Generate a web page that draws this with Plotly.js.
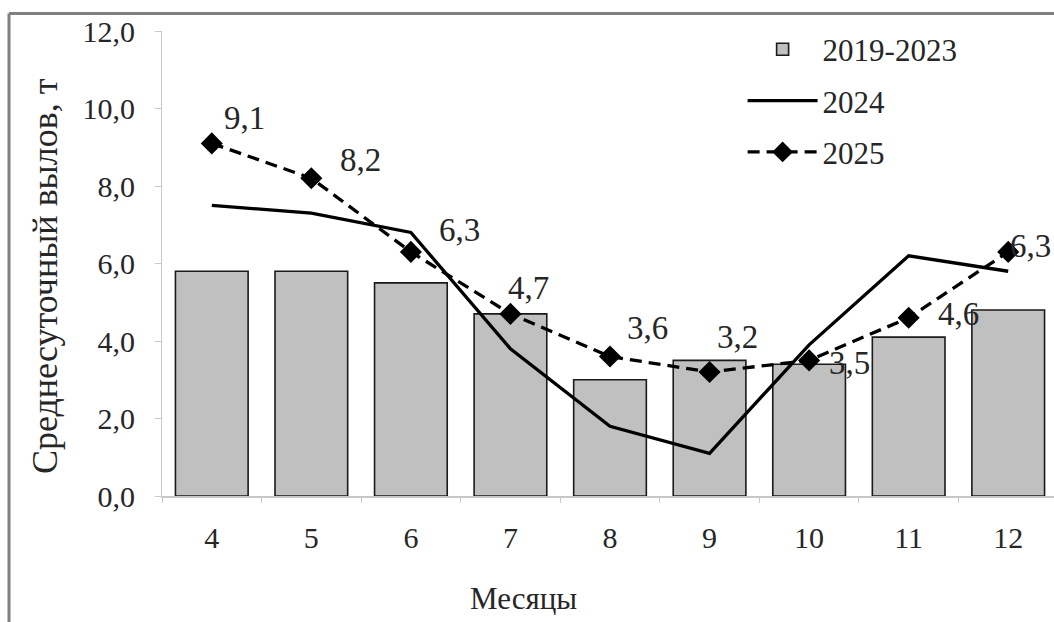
<!DOCTYPE html>
<html>
<head>
<meta charset="utf-8">
<script src="https://cdn.plot.ly/plotly-3.0.1.min.js"></script>
<style>
html,body{margin:0;padding:0;background:#fff;overflow:hidden;width:1054px;height:622px;}
#chart{width:1070px;height:622px;}
</style>
</head>
<body>
<div id="chart"></div>
<script>
var months = ['4','5','6','7','8','9','10','11','12'];
var avg2019_2023 = [5.8, 5.8, 5.5, 4.7, 3.0, 3.5, 3.4, 4.1, 4.8];
var y2024 = [7.5, 7.3, 6.8, 3.8, 1.8, 1.1, 3.9, 6.2, 5.8];
var y2025 = [9.1, 8.2, 6.3, 4.7, 3.6, 3.2, 3.5, 4.6, 6.3];
var yTickVals = [0, 2, 4, 6, 8, 10, 12];
var yTickText = ['0,0', '2,0', '4,0', '6,0', '8,0', '10,0', '12,0'];
var seriesNames = ['2019-2023', '2024', '2025'];
var xTitle = 'Месяцы';
var yTitle = 'Среднесуточный вылов, т';

// label offsets (px) for 2025 data labels
var labelShiftX = [33, 49, 49, 18, 37, 28, 40, 50, 22];
var labelShiftY = [25, 18, 22, 26, 29, 35, -3, 4, 6];

var FONT = 'Liberation Serif, Times New Roman, serif';
var TXT = '#262626';

var traces = [
  {type:'bar', x:months, y:avg2019_2023, name:seriesNames[0], width:0.73,
   marker:{color:'#c0c0c0', line:{color:'#1a1a1a', width:1.6}}, legendgroup:'a', hoverinfo:'y'},
  {type:'scatter', mode:'lines', x:months, y:y2024, name:seriesNames[1],
   line:{color:'#000', width:3.3}, legendgroup:'b'},
  {type:'scatter', mode:'lines+markers', x:months, y:y2025, name:seriesNames[2],
   line:{color:'#000', width:3.3, dash:'12px,7px'}, marker:{symbol:'diamond', size:17, color:'#000'}, legendgroup:'c'}
];

var annotations = y2025.map(function(v, i){
  return {x:i, y:v, xref:'x', yref:'y', text:v.toFixed(1).replace('.', ','),
    showarrow:false, xshift:labelShiftX[i], yshift:labelShiftY[i],
    font:{family:FONT, size:33, color:TXT}};
});
annotations.push({xref:'paper', yref:'paper', x:(523-162)/896, y:(496-598)/465, text:xTitle,
  showarrow:false, font:{family:FONT, size:31, color:TXT}, xanchor:'center', yanchor:'middle'});
annotations.push({xref:'paper', yref:'paper', x:(45-162)/896, y:(496-276)/465, text:yTitle, textangle:-90,
  showarrow:false, font:{family:FONT, size:36, color:TXT}, xanchor:'center', yanchor:'middle'});

var layout = {
  width:1070, height:622,
  margin:{l:162, r:12, t:31, b:126},
  paper_bgcolor:'#fff', plot_bgcolor:'#fff',
  font:{family:FONT, size:30, color:TXT},
  bargap:0.27,
  showlegend:true,
  legend:{x:0.648, y:1.018, xanchor:'left', yanchor:'top', bgcolor:'rgba(0,0,0,0)',
    font:{family:FONT, size:31, color:TXT}, itemwidth:70, traceorder:'grouped', tracegroupgap:8},
  xaxis:{type:'category', range:[-0.5, 8.5], showgrid:false, zeroline:false, showline:true, linecolor:'#c8c8c8', linewidth:2,
    ticks:'outside', ticklen:5, tickcolor:'#c8c8c8', tickson:'boundaries', ticklabelstandoff:14,
    tickfont:{family:FONT, size:30, color:TXT}},
  yaxis:{range:[0,12], showgrid:false, zeroline:false, showline:true, linecolor:'#c8c8c8', linewidth:1,
    ticks:'outside', ticklen:6, tickcolor:'#c8c8c8', tickvals:yTickVals, ticktext:yTickText,
    ticklabelstandoff:14, tickfont:{family:FONT, size:30, color:TXT}},
  annotations:annotations,
  shapes:[
    {type:'line', xref:'paper', yref:'paper', x0:(9-162)/896, x1:1.2, y0:(496-13.5)/465, y1:(496-13.5)/465,
     line:{color:'#808080', width:3}},
    {type:'line', xref:'paper', yref:'paper', x0:(9-162)/896, x1:(9-162)/896, y0:(496-13.5)/465, y1:-0.5,
     line:{color:'#808080', width:3}}
  ]
};

Plotly.newPlot('chart', traces, layout, {displayModeBar:false, staticPlot:true});
</script>
</body>
</html>
